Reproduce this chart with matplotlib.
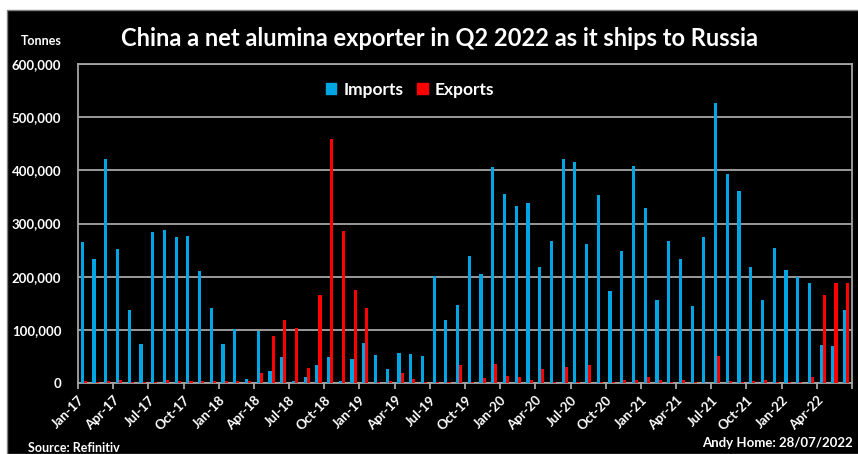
import numpy as np
import matplotlib
matplotlib.use("Agg")
import matplotlib.pyplot as plt
from matplotlib.patches import Patch, Rectangle
from matplotlib.ticker import FuncFormatter

# monthly alumina trade Jan-17 .. Jun-22, thousand tonnes
imports = [265, 234, 421, 252, 138, 73, 284, 287, 274, 277, 210, 142,
           73, 101, 8, 98, 22, 49, 4, 11, 34, 48, 4, 46,
           75, 53, 26, 56, 54, 50, 201, 119, 147, 239, 205, 406,
           356, 333, 338, 218, 267, 421, 416, 262, 354, 173, 249, 408,
           330, 156, 267, 234, 145, 274, 527, 393, 361, 219, 157, 254,
           212, 200, 188, 72, 70, 138]
exports = [4, 1, 4, 6, 2.5, 1.5, 2, 6, 3, 3, 3, 3,
           3, 3, 3, 18, 89, 118, 103, 28, 165, 459, 285, 175,
           142, 1, 3, 18, 7, 2, 2, 2, 33, 2, 9, 36,
           13, 11, 6, 27, 2, 31, 1, 33, 2, 1, 6, 6,
           11, 6, 2, 6, 2, 0, 51, 4, 2, 4, 6, 2,
           2, 2, 12, 166, 188, 188]
tick_labels = ["Jan-17", "Apr-17", "Jul-17", "Oct-17", "Jan-18", "Apr-18", "Jul-18", "Oct-18",
               "Jan-19", "Apr-19", "Jul-19", "Oct-19", "Jan-20", "Apr-20", "Jul-20", "Oct-20",
               "Jan-21", "Apr-21", "Jul-21", "Oct-21", "Jan-22", "Apr-22"]

BLUE = "#00A6E4"
RED = "#FF0000"
GRID = "#A6A6A6"
FONT = "Lato"

fig = plt.figure(figsize=(8.58, 4.54), dpi=100, facecolor="white")
# black panel with small white margin top / left
fig.patches.append(Rectangle((7 / 858, 0), 1, (454 - 10) / 454, transform=fig.transFigure,
                             facecolor="black", edgecolor="#808080", lw=1, zorder=-5))

ax = fig.add_axes([78 / 858, (454 - 383) / 454, (852 - 78) / 858, (383 - 64) / 454])
ax.set_facecolor("black")
ax.set_zorder(2)

x = np.arange(len(imports))
w = 0.27
ax.bar(x - w / 2, np.array(imports) * 1000, width=w, color=BLUE, zorder=3)
ax.bar(x + w / 2, np.array(exports) * 1000, width=w, color=RED, zorder=3)

ax.set_xlim(-0.5, len(imports) - 0.5)
ax.set_ylim(0, 600000)
ax.set_yticks(np.arange(0, 600001, 100000))
ax.yaxis.set_major_formatter(FuncFormatter(lambda v, p: f"{int(v):,}"))
ax.grid(axis="y", color=GRID, lw=1.3, zorder=1)
for s in ax.spines.values():
    s.set_color(GRID)
    s.set_linewidth(1.3)

ticks = np.arange(-0.5, len(imports), 3)
ax.set_xticks(ticks)
ax.set_xticklabels(tick_labels + [""] * (len(ticks) - len(tick_labels)))
ax.tick_params(axis="x", colors=GRID, length=4, width=1.3, pad=4)
ax.tick_params(axis="y", length=0, pad=12)
for lab in ax.get_xticklabels():
    lab.set_rotation(45)
    lab.set_ha("right")
    lab.set_va("top")
    lab.set_rotation_mode("anchor")
    lab.set_color("white")
    lab.set_fontweight("bold")
    lab.set_fontsize(9.5)
    lab.set_family(FONT)
for lab in ax.get_yticklabels():
    lab.set_color("white")
    lab.set_fontweight("bold")
    lab.set_fontsize(9.5)
    lab.set_family(FONT)

fig.text(440 / 858, 1 - 38 / 454, "China a net alumina exporter in Q2 2022 as it ships to Russia",
         color="white", fontsize=17, fontweight="bold", family=FONT, ha="center", va="center")
fig.text(41 / 858, 1 - 41 / 454, "Tonnes", color="white", fontsize=9, fontweight="bold",
         family=FONT, ha="center", va="center")
fig.text(28 / 858, 1 - 448 / 454, "Source: Refinitiv", color="white", fontsize=9,
         fontweight="bold", family=FONT, ha="left", va="center")
fig.text(853 / 858, 1 - 443 / 454, "Andy Home: 28/07/2022", color="white", fontsize=9.5,
         fontweight="bold", family=FONT, ha="right", va="center")

handles = [Patch(color=BLUE, label="Imports"), Patch(color=RED, label="Exports")]
leg = fig.legend(handles=handles, loc="center", bbox_to_anchor=(410 / 858, 1 - 90 / 454),
                 ncol=2, frameon=False, handlelength=0.6, handleheight=0.6,
                 handletextpad=0.4, columnspacing=0.8,
                 prop={"family": FONT, "weight": "bold", "size": 12.5})
for t in leg.get_texts():
    t.set_color("white")
leg.set_zorder(5)

fig.savefig("out.png", dpi=100, facecolor=fig.get_facecolor())
